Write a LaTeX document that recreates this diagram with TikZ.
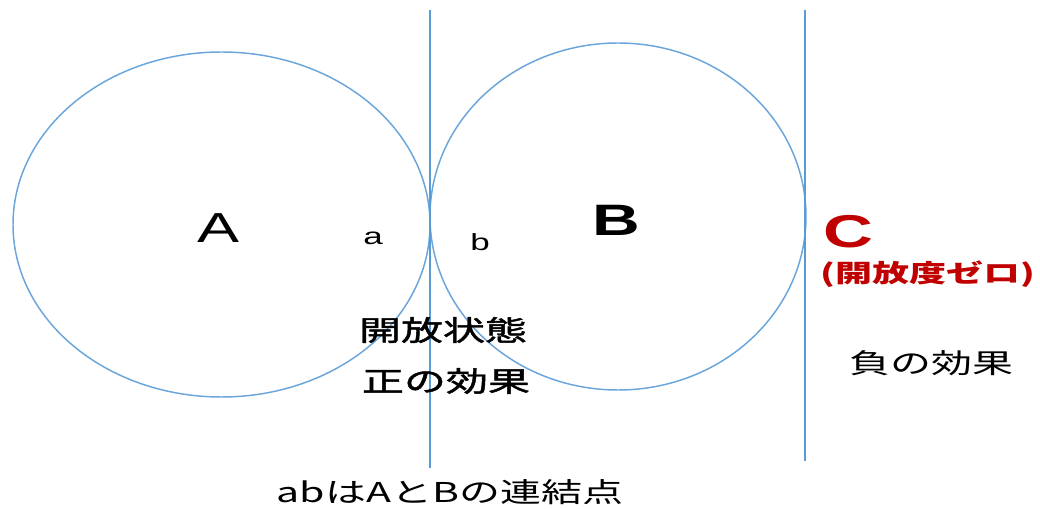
\documentclass[tikz,border=0pt]{standalone}
\usepackage{fontspec}
\setmainfont{Liberation Sans}[FakeStretch=1.5]
\newfontfamily\jp{Noto Sans CJK JP}[FakeStretch=1.5]
\newfontfamily\jpsemi{Noto Sans CJK JP}[FakeStretch=1.5, FakeBold=1.6]
\usetikzlibrary{shapes.geometric}
\definecolor{ringblue}{HTML}{6AA5DB}
\definecolor{lineblue}{HTML}{5B9BD5}
\definecolor{darkred}{HTML}{C00000}
\begin{document}
\begin{tikzpicture}[x=0.75pt,y=-0.75pt,
  ring/.style={draw=ringblue, line width=1.1pt, ellipse, inner sep=0pt},
  divider/.style={draw=lineblue, line width=1.3pt},
  biglabel/.style={inner sep=0pt, font=\fontsize{31.5}{33}\selectfont},
  boldlabel/.style={inner sep=0pt, font=\bfseries\fontsize{33}{35}\selectfont},
  smalllabel/.style={inner sep=0pt, font=\fontsize{17.5}{19}\selectfont},
  jptext/.style={inner sep=0pt, font=\jp\fontsize{20.5}{22}\selectfont},
  jpbold/.style={inner sep=0pt, font=\jpsemi\fontsize{21}{23}\selectfont},
  redlabel/.style={inner sep=0pt, text=darkred, font=\bfseries\fontsize{34.5}{36}\selectfont},
  rednote/.style={inner sep=0pt, text=darkred, font=\jp\bfseries\fontsize{18.5}{20}\selectfont}]
\fill[white] (0,0) rectangle (1040,509);
\useasboundingbox (0,0) rectangle (1040,509);
% circles
\node[ring, minimum width=312.75pt, minimum height=258.75pt] (ringA) at (221.5,224.5) {};
\node[ring, minimum width=282pt, minimum height=260.25pt] (ringB) at (618,216.5) {};
% vertical lines
\coordinate (t1) at (430,10);
\coordinate (b1) at (430,468);
\coordinate (t2) at (805,10);
\coordinate (b2) at (805,461);
\draw[divider] (t1) -- (b1);
\draw[divider] (t2) -- (b2);
% labels
\node[biglabel] (labA) at (219,228) {A};
\node[boldlabel] (labB) at (616,220) {B};
\node[smalllabel] (laba) at (373,238) {a};
\node[smalllabel] (labb) at (480,242) {b};
\node[redlabel] (labC) at (848,232) {C};
\node[rednote] (zero) at (928,274) {(開放度ゼロ)};
\node[jpbold] (open) at (443,330) {開放状態};
\node[jpbold] (pos) at (446,381) {正の効果};
\node[jptext] (neg) at (931,363) {負の効果};
\node[jptext] (note) at (450,492) {abはAとBの連結点};
\end{tikzpicture}
\end{document}
